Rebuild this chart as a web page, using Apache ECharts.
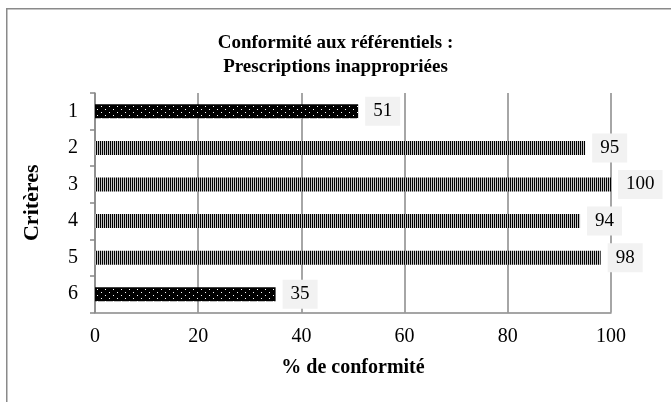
<!DOCTYPE html>
<html>
<head>
<meta charset="utf-8">
<script src="https://cdn.jsdelivr.net/npm/echarts@6/dist/echarts.min.js"></script>
<style>
html,body{margin:0;padding:0;background:#fff;}
#chart{width:671px;height:402px;}
</style>
</head>
<body>
<div id="chart"></div>
<script>
const titleText = "Conformité aux référentiels :\nPrescriptions inappropriées";
const categories = ["1", "2", "3", "4", "5", "6"];
const values = [51, 95, 100, 94, 98, 35];
const patterns = ["dots", "stripes", "stripes", "stripes", "stripes", "dots"];
const xTicks = [0, 20, 40, 60, 80, 100];
const xName = "% de conformité";
const yName = "Critères";

function makeDots() {
  const c = document.createElement('canvas');
  c.width = 8; c.height = 6;
  const g = c.getContext('2d');
  g.fillStyle = '#000'; g.fillRect(0, 0, 8, 6);
  g.fillStyle = '#fff';
  g.fillRect(1, 1, 1, 1);
  g.fillRect(5, 4, 1, 1);
  return c;
}
function makeStripes() {
  const c = document.createElement('canvas');
  c.width = 2; c.height = 2;
  const g = c.getContext('2d');
  g.fillStyle = '#c4c4c4'; g.fillRect(0, 0, 2, 2);
  g.fillStyle = '#000'; g.fillRect(0, 0, 1, 2);
  return c;
}
const patternImgs = { dots: makeDots(), stripes: makeStripes() };

const serif = "'Liberation Serif', 'Times New Roman', serif";
const chart = echarts.init(document.getElementById('chart'));
chart.setOption({
  animation: false,
  backgroundColor: '#fff',
  graphic: [{
    type: 'rect', left: 6, top: 8, z: -1,
    shape: { width: 700, height: 420 },
    style: { fill: '#fff', stroke: '#8a8a8a', lineWidth: 1.5 }
  }],
  title: {
    text: titleText, left: 'center', top: 26,
    textStyle: { fontFamily: serif, fontWeight: 'bold', fontSize: 19, lineHeight: 24, color: '#000' }
  },
  grid: { left: 95, right: 60, top: 93, bottom: 89.5 },
  xAxis: {
    type: 'value', min: xTicks[0], max: xTicks[xTicks.length - 1], interval: 20,
    name: xName, nameLocation: 'middle', nameGap: 45,
    nameTextStyle: { fontFamily: serif, fontWeight: 'bold', fontSize: 20, color: '#000' },
    axisLine: { show: true, lineStyle: { color: '#888', width: 1.5 } },
    axisTick: { show: false },
    splitLine: { show: true, lineStyle: { color: '#888', width: 1.5 } },
    axisLabel: { margin: 14, fontFamily: serif, fontSize: 20, color: '#000' }
  },
  yAxis: {
    type: 'category', data: categories, inverse: true,
    name: yName, nameLocation: 'middle', nameGap: 52, nameRotate: 90,
    nameTextStyle: { fontFamily: serif, fontWeight: 'bold', fontSize: 22, color: '#000' },
    axisLine: { show: true, lineStyle: { color: '#888', width: 1.5 } },
    axisTick: { show: true, length: 5, lineStyle: { color: '#888', width: 1.5 } },
    axisLabel: { margin: 17, fontFamily: serif, fontSize: 20, color: '#000' }
  },
  series: [{
    type: 'bar', barWidth: 14,
    data: values.map((v, i) => ({
      value: v,
      itemStyle: { color: { image: patternImgs[patterns[i]], repeat: 'repeat' } }
    })),
    label: {
      show: true, position: 'right', distance: 7,
      fontFamily: serif, fontSize: 19, color: '#000',
      backgroundColor: '#f2f2f2', padding: [5, 8, 5, 8]
    }
  }]
});
</script>
</body>
</html>
